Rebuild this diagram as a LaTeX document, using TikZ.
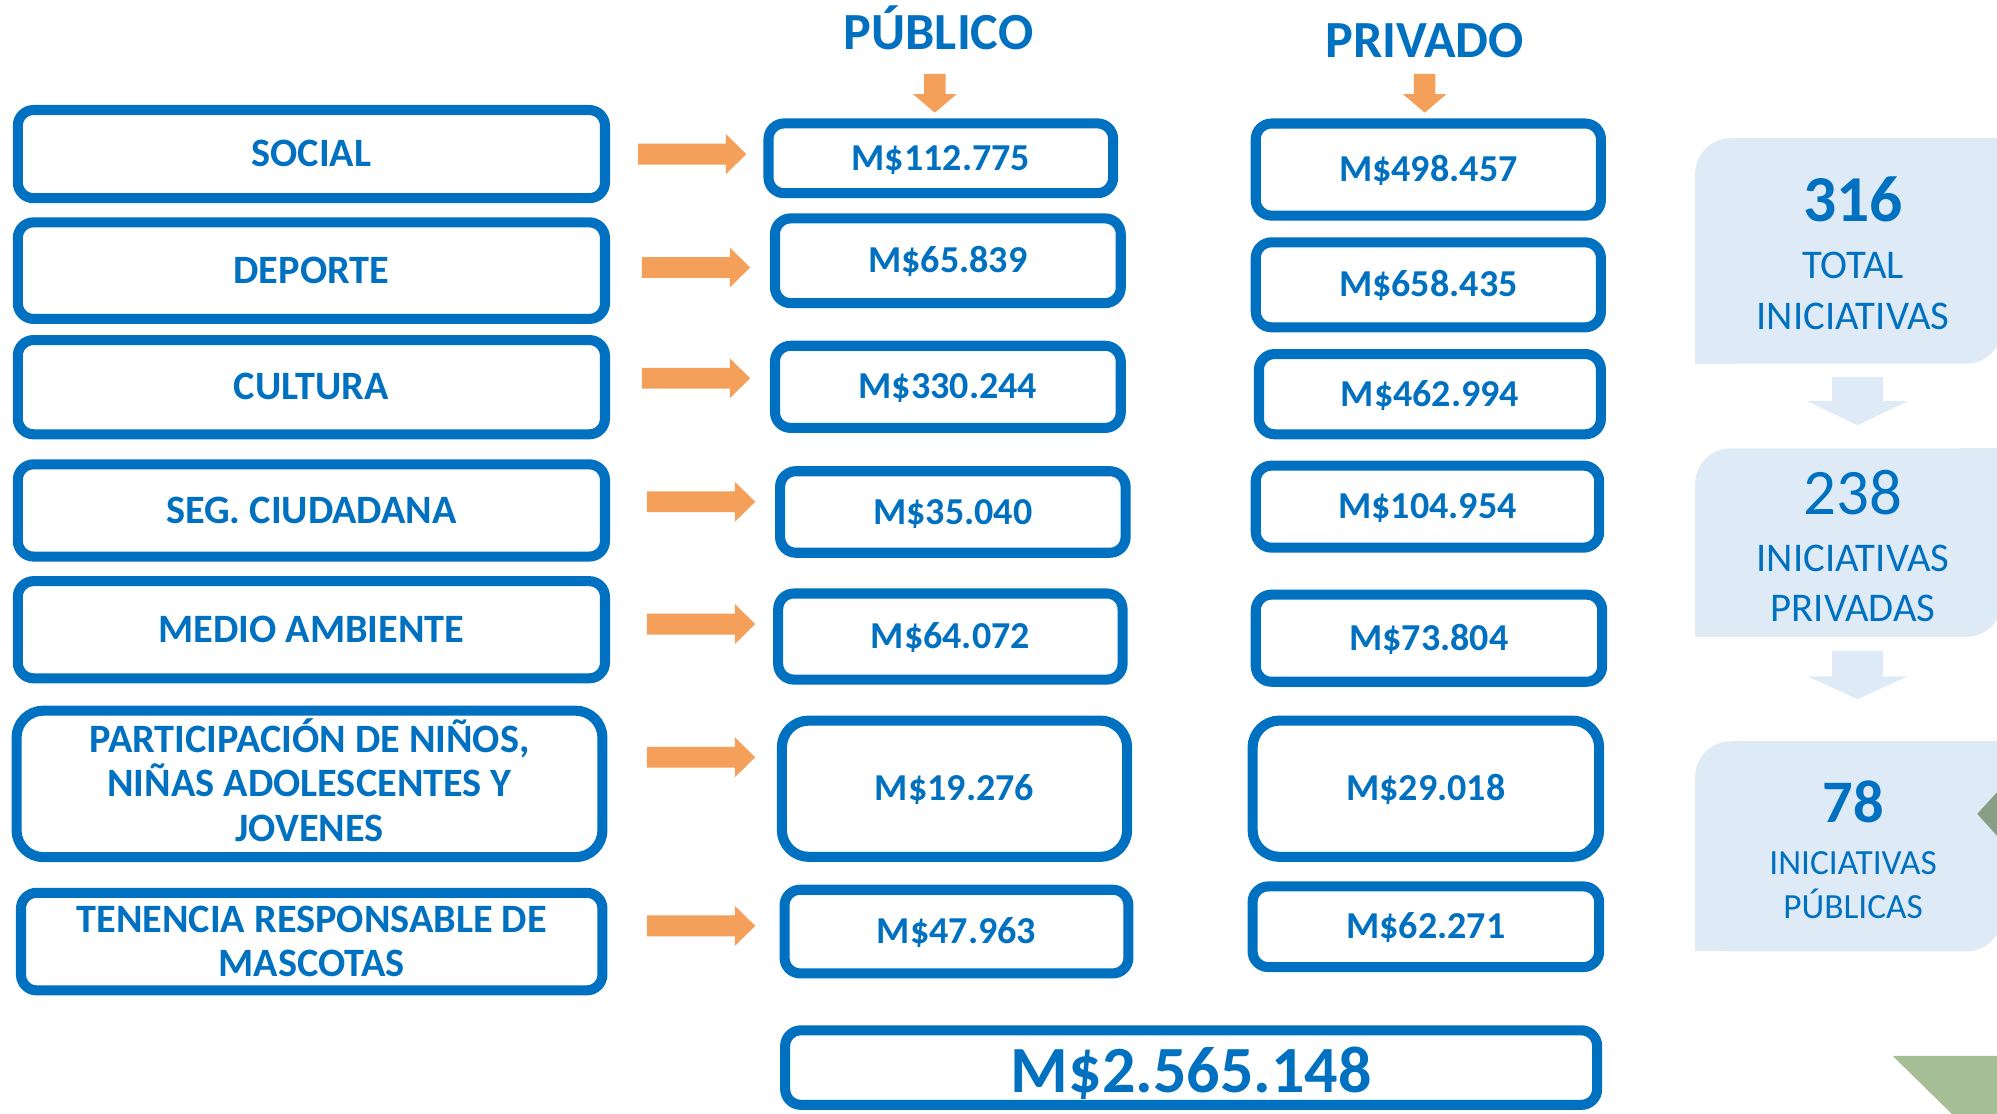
\documentclass[tikz,border=0pt]{standalone}
\usepackage{fontspec}
\setmainfont{Carlito}
\definecolor{bblue}{HTML}{0070C0}
\definecolor{panelc}{HTML}{DEEBF7}
\definecolor{oarr}{RGB}{244,160,90}
\definecolor{gdark}{RGB}{138,158,134}
\definecolor{glight}{RGB}{165,190,149}
\newcommand{\bbx}[7][]{%
  \pgfmathsetmacro{\bxc}{(#3+#5)/2}%
  \pgfmathsetmacro{\byc}{(#4+#6)/2}%
  \pgfmathsetmacro{\bxw}{(#5-#3-8)*0.02}%
  \pgfmathsetmacro{\byh}{(#6-#4-8)*0.02}%
  \node[bbox,#1,minimum width=\bxw cm,minimum height=\byh cm] (#2) at (\bxc,\byc) {#7};%
}
\begin{document}
\begin{tikzpicture}[x=0.02cm,y=-0.02cm,
  bbox/.style={draw=bblue,line width=4.5pt,rounded corners=7pt,fill=white,inner sep=0pt,
    text=bblue,align=center,font=\bfseries\fontsize{17}{19.9}\selectfont,
    text height=10.75pt,text depth=0pt},
  lbl/.style={font=\bfseries\fontsize{18}{19.9}\selectfont,text height=11.38pt},
  bigr/.style={rounded corners=12pt},
  ttl/.style={anchor=base,text=bblue,inner sep=0pt,font=\bfseries\fontsize{23.3}{26}\selectfont},
  numtxt/.style={text=bblue,inner sep=0pt,text height=18.5pt,text depth=0pt},
  captxt/.style={text=bblue,inner sep=0pt,align=center,text depth=0pt},
  rarr/.style={fill=oarr},
  darr/.style={fill=oarr},
  parr/.style={fill=panelc}
]
\useasboundingbox (0,0) rectangle (1568,874);
\clip (0,0) rectangle (1568,874);

% titles
\node[ttl] (tpub) at (737,39) {PÚBLICO};
\node[ttl] (tpriv) at (1118.6,45) {PRIVADO};
\coordinate (dpub) at (734,58);
\coordinate (dpriv) at (1118.6,58);
\foreach \c in {dpub,dpriv}{
  \fill[darr,shift={(\c)}] (-8.5,0) -- (8.5,0) -- (8.5,16) -- (17,16) -- (0,30.5) -- (-17,16) -- (-8.5,16) -- cycle;
}

% left column
\bbx[lbl]{l1}{10}{82.4}{479}{159.6}{SOCIAL}
\bbx[lbl]{l2}{10}{170.6}{479}{254.4}{DEPORTE}
\bbx[lbl]{l3}{10}{263}{479}{345}{CULTURA}
\bbx[lbl]{l4}{10}{360.6}{479}{441}{SEG. CIUDADANA}
\bbx[lbl]{l5}{10}{452.3}{479}{536.6}{MEDIO AMBIENTE}
\bbx[lbl,bigr,text height=51.18pt]{l6}{9}{554}{477}{677}{PARTICIPACIÓN DE NIÑOS,\\NIÑAS ADOLESCENTES Y\\JOVENES}
\bbx[lbl,text height=31.28pt]{l7}{12.5}{697}{477}{781.6}{TENENCIA RESPONSABLE DE\\MASCOTAS}

% public column
\bbx{p1}{599.4}{92.9}{878}{155.7}{M\$112.775}
\bbx{p2}{604.5}{167.5}{884}{242}{M\$65.839}
\bbx{p3}{604.5}{267.5}{884}{340}{M\$330.244}
\bbx{p4}{608.5}{366}{887.8}{438}{M\$35.040}
\bbx{p5}{607}{462}{885.4}{537.6}{M\$64.072}
\bbx[bigr]{p6}{609.9}{561.8}{889}{676.8}{M\$19.276}
\bbx{p7}{612}{694.6}{890}{768.3}{M\$47.963}

% private column
\bbx{v1}{982}{93}{1261}{173.3}{M\$498.457}
\bbx{v2}{982}{186.3}{1261}{261}{M\$658.435}
\bbx{v3}{984.5}{274}{1261}{345}{M\$462.994}
\bbx{v4}{982}{361.6}{1259.6}{434}{M\$104.954}
\bbx{v5}{982}{462.9}{1262}{539.3}{M\$73.804}
\bbx[bigr]{v6}{979.5}{561.8}{1259.6}{676.8}{M\$29.018}
\bbx{v7}{979.5}{692}{1259.6}{763.3}{M\$62.271}

% total
\bbx[font=\bfseries\fontsize{29.5}{32}\selectfont,text height=22pt]{tot}{612.5}{805}{1258}{871.5}{M\$2.565.148}

% orange right arrows
\coordinate (a1) at (501,121);
\coordinate (a2) at (504,210);
\coordinate (a3) at (504,297);
\coordinate (a4) at (508,394);
\coordinate (a5) at (508,490);
\coordinate (a6) at (508,594.6);
\coordinate (a7) at (508,727);
\foreach \c in {a1,a2,a3,a4,a5,a6,a7}{
  \fill[rarr,shift={(\c)}] (0,-8.2) -- (69,-8.2) -- (69,-15.7) -- (85,0) -- (69,15.7) -- (69,8.2) -- (0,8.2) -- cycle;
}

% right panels
\foreach \ya/\yb in {108.5/285.5, 352/500, 582/747}{
  \fill[panelc,rounded corners=15.9pt] (1331,\ya) rectangle (1572,\yb);
  \fill[panelc] (1540,\ya) rectangle (1572,\ya+30);
  \fill[panelc] (1331,\yb-30) rectangle (1363,\yb);
}
\coordinate (pa1) at (1458.5,296);
\coordinate (pa2) at (1458.5,511);
\fill[parr,shift={(pa1)}] (-20,0) -- (20,0) -- (20,19) -- (39.5,19) -- (0,38) -- (-39.5,19) -- (-20,19) -- cycle;
\fill[parr,shift={(pa2)}] (-20,0) -- (20,0) -- (20,20) -- (39.5,20) -- (0,38) -- (-39.5,20) -- (-20,20) -- cycle;

\node[numtxt,font=\bfseries\fontsize{29.3}{32}\selectfont] (n316) at (1455,157.7) {316};
\node[captxt,font=\fontsize{18.2}{22.5}\selectfont,text height=34pt] (c316) at (1455,228.5) {TOTAL\\INICIATIVAS};
\node[numtxt,font=\fontsize{29}{32}\selectfont] (n238) at (1455,387.6) {238};
\node[captxt,font=\fontsize{18.2}{22.2}\selectfont,text height=33.7pt] (c238) at (1455,458) {INICIATIVAS\\PRIVADAS};
\node[numtxt,font=\bfseries\fontsize{27}{30}\selectfont,text height=17pt] (n78) at (1455,630.6) {78};
\node[captxt,font=\fontsize{15.8}{19.6}\selectfont,text height=29.6pt] (c78) at (1455,695.3) {INICIATIVAS\\PÚBLICAS};

% green decorations
\fill[gdark] (1552.5,639) -- (1574,615.5) -- (1574,663) -- cycle;
\fill[glight] (1486,829) -- (1574,829) -- (1574,880) -- (1538,880) -- cycle;
\end{tikzpicture}
\end{document}
